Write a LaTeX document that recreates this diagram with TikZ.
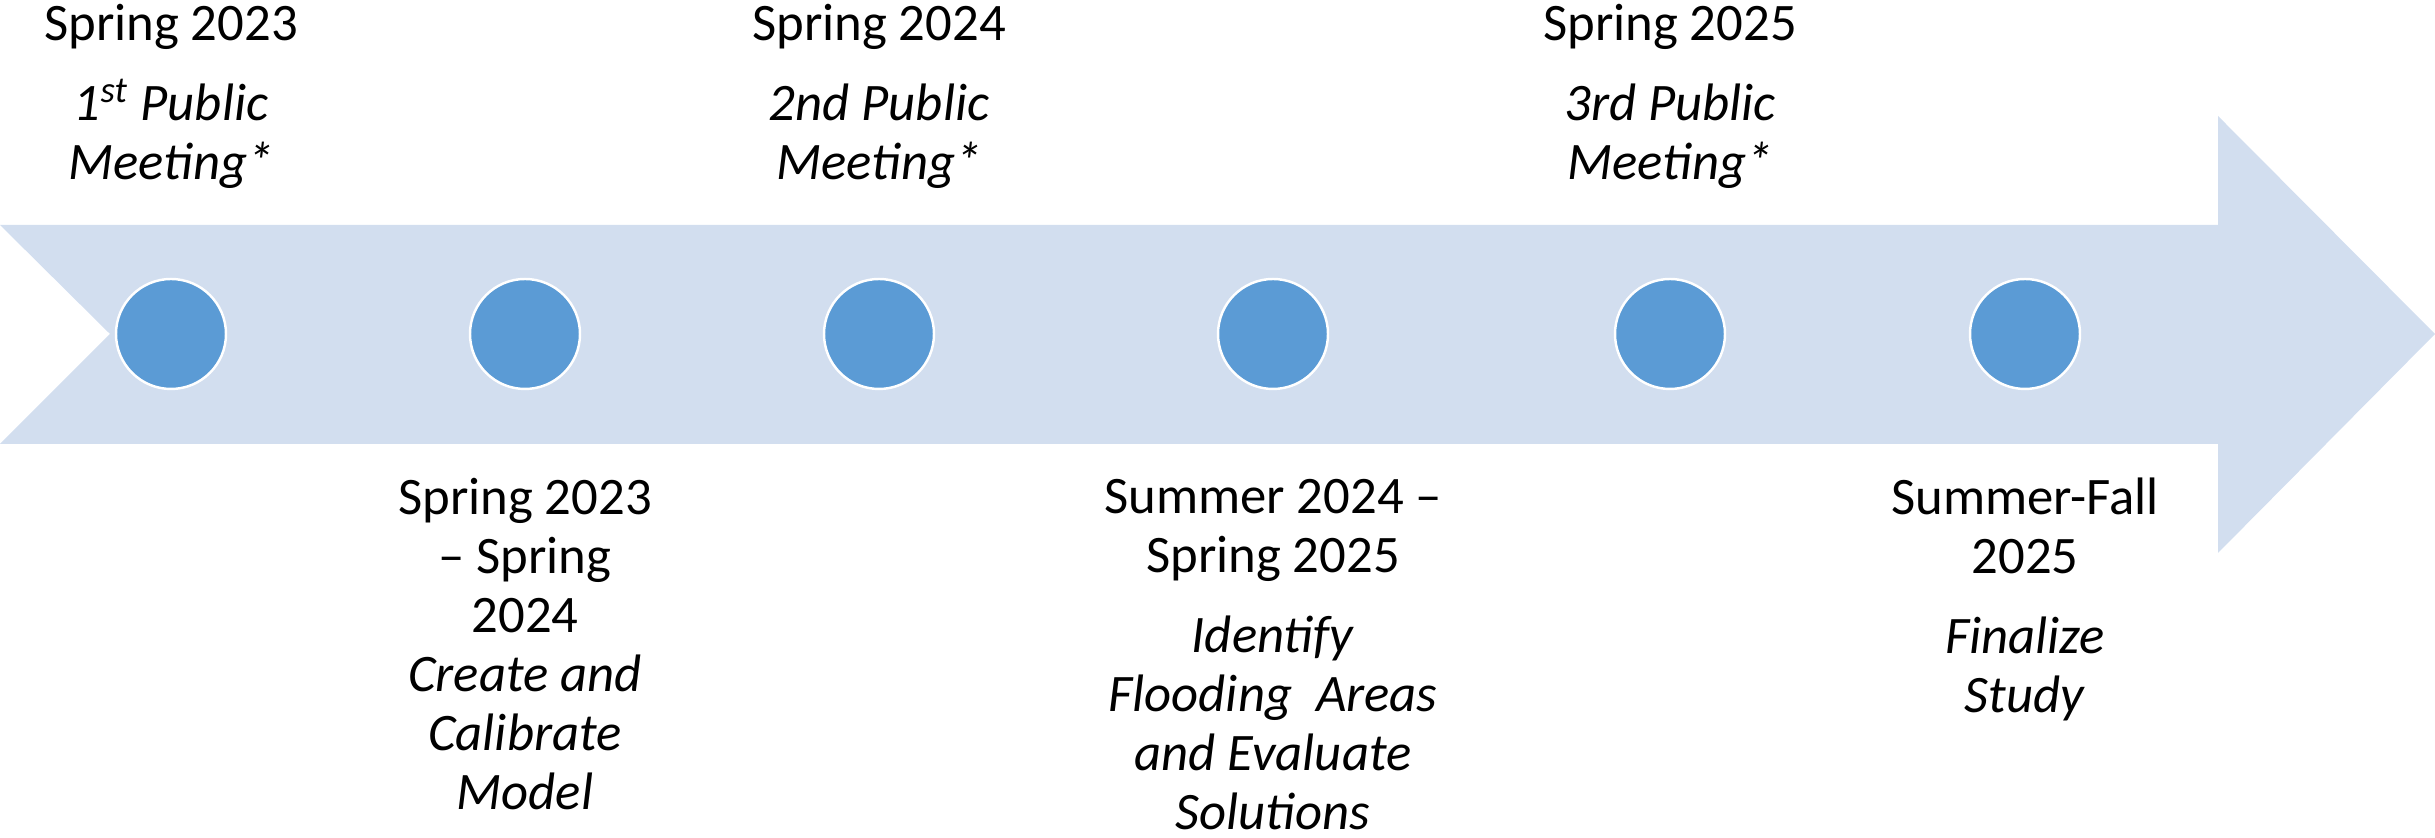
\documentclass[tikz,border=0pt]{standalone}
\usepackage{fontspec}
\setmainfont{Carlito}
\usepackage{xcolor}
\usepackage{tikz}

\definecolor{bandblue}{RGB}{210,222,239}
\definecolor{dotblue}{RGB}{91,155,213}

\begin{document}
\begin{tikzpicture}[
	dot/.style={circle, fill=dotblue, draw=white, line width=0.7pt, minimum size=1.1cm, inner sep=0pt},
	when/.style={align=center, anchor=base, inner sep=0pt, font=\fontsize{15pt}{16.8pt}\selectfont}]
		\useasboundingbox (0,0) rectangle (24.35,8.38);
		\fill[bandblue] (0,6.13) -- (22.18,6.13) -- (22.18,7.22) -- (24.35,5.04) -- (22.18,2.85) -- (22.18,3.94) -- (0,3.94) -- (1.10,5.04) -- cycle;
		\node[dot] at (1.71,5.04)  (d1){};
		\node[dot] at (5.25,5.04)  (d2){};
		\node[dot] at (8.79,5.04)  (d3){};
		\node[dot] at (12.73,5.04) (d4){};
		\node[dot] at (16.70,5.04) (d5){};
		\node[dot] at (20.25,5.04) (d6){};
		% base anchor = last line
		\node[when] at (1.71,6.58)  (m1){Spring 2023\\[6pt] \textit{1\textsuperscript{st} Public}\\ \textit{Meeting*}};
		\node[when] at (8.79,6.58)  (m2){Spring 2024\\[6pt] \textit{2nd Public}\\ \textit{Meeting*}};
		\node[when] at (16.70,6.58) (m3){Spring 2025\\[6pt] \textit{3rd Public}\\ \textit{Meeting*}};
		\node[when] at (5.25,0.28)  (p1){Spring 2023\\ -- Spring\\ 2024\\ \textit{Create and}\\ \textit{Calibrate}\\ \textit{Model}};
		\node[when] at (12.73,0.08) (p2){Summer 2024 --\\ Spring 2025\\[6pt] \textit{Identify}\\ \textit{Flooding~ Areas}\\ \textit{and Evaluate}\\ \textit{Solutions}};
		\node[when] at (20.25,1.25) (p3){Summer-Fall\\ 2025\\[6pt] \textit{Finalize}\\ \textit{Study}};
	\end{tikzpicture}
\end{document}
